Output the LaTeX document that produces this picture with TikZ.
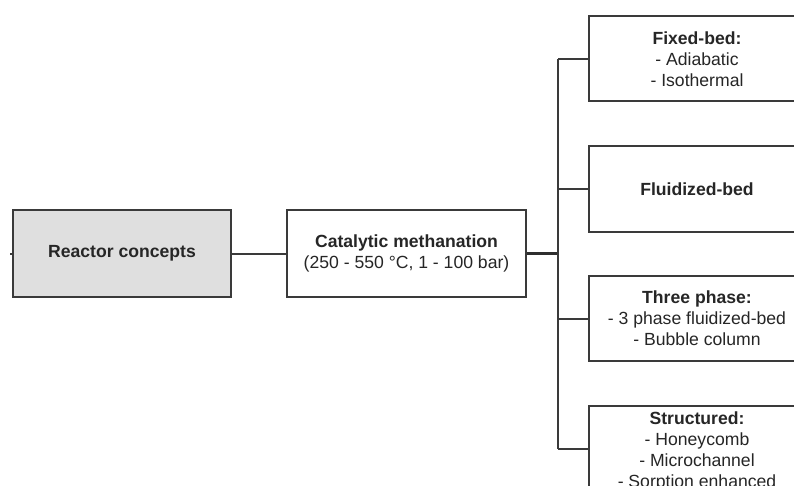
\documentclass[tikz,border=0pt]{standalone}
\usepackage{fontspec}
\setmainfont{Liberation Sans}
\definecolor{boxline}{HTML}{3A3A3A}
\definecolor{txt}{HTML}{262626}
\definecolor{grayfill}{HTML}{DFDFDF}
\begin{document}
\begin{tikzpicture}[x=1pt,y=-1pt,
  box/.style={draw=boxline, line width=2pt, fill=white, inner sep=0pt, align=center,
    font=\fontsize{17.6}{20.8}\selectfont, text=txt},
  rbox/.style={box, minimum width=216pt, minimum height=85pt},
  conn/.style={draw=boxline, line width=2pt},
  thickconn/.style={draw=boxline!80!black, line width=3pt}]
\useasboundingbox (0,0) rectangle (794,486);
\clip (0,0) rectangle (794,486);
\node[box, fill=grayfill, minimum width=218pt, minimum height=86pt] (rc) at (122,253.5) {\bfseries Reactor concepts};
\node[box, minimum width=239pt, minimum height=86pt] (cm) at (406.5,253.5) {\bfseries Catalytic methanation\\(250 - 550 °C, 1 - 100 bar)};
\node[rbox] (fb) at (697,59) {\bfseries Fixed-bed:\\- Adiabatic\\- Isothermal};
\node[rbox] (fl) at (697,189) {\bfseries Fluidized-bed};
\node[rbox] (tp) at (697,318.5) {\bfseries Three phase:\\- 3 phase fluidized-bed\\- Bubble column};
\node[rbox, minimum height=92pt] (st) at (697,451.5) {\bfseries Structured:\\- Honeycomb\\- Microchannel\\- Sorption enhanced};
\coordinate (stub) at (10,253.5);
\coordinate (bus) at (558,253.5);
\coordinate (bustop) at (558,59);
\coordinate (busbot) at (558,449);
\draw[conn] (stub) -- (rc.west);
\draw[conn] (rc.east) -- (cm.west);
\draw[thickconn] (cm.east) -- (bus);
\draw[conn] (bustop) -- (busbot);
\draw[conn] (bustop) -- (fb.west);
\draw[conn] (558,189) -- (fl.west);
\draw[conn] (558,318.5) -- (tp.west);
\draw[conn] (busbot) -- (busbot -| st.west);
\end{tikzpicture}
\end{document}
